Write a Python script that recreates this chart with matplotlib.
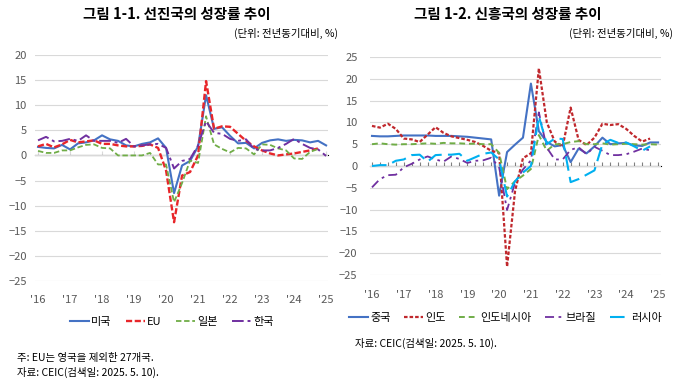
# 선진국 / 신흥국 분기별 성장률 추이 (전년동기대비, %)
import numpy as np
import matplotlib
matplotlib.use('Agg')
import matplotlib.pyplot as plt

plt.rcParams['font.family'] = ['Noto Sans CJK KR', 'DejaVu Sans']

nan = np.nan
# 2016Q1 ~ 2025Q1 (37 quarters)
quarters = 2016 + np.arange(37) / 4
year_ticks = list(range(2016, 2026))
year_labels = ["'16", "'17", "'18", "'19", "'20", "'21", "'22", "'23", "'24", "'25"]

# ---- 그림 1-1 선진국
us = [1.7, 1.5, 1.4, 2.1, 1.2, 2.4, 2.6, 3.0, 4.0, 3.2, 2.9, 2.0,
      1.8, 2.3, 2.6, 3.4, 1.5, -7.5, -2.0, -1.1, 1.8, 12.0, 5.3, 5.6,
      3.9, 2.4, 2.5, 1.4, 2.5, 3.0, 3.2, 2.9, 3.1, 3.0, 2.6, 2.9, 2.0]
eu = [1.8, 2.3, 1.6, 2.2, 3.1, 2.6, 2.8, 3.0, 2.3, 2.3, 2.0, 1.8,
      1.8, 1.9, 2.2, 1.5, -3.0, -13.3, -4.0, -3.3, 0.0, 14.8, 5.3, 5.8,
      5.7, 4.3, 2.9, 1.8, 1.0, 0.4, 0.0, 0.2, 0.4, 0.7, 1.0, 1.4, nan]
japan = [0.9, 0.5, 0.5, 1.0, 1.0, 1.6, 2.1, 2.2, 1.5, 1.4, 0.0, 0.0,
         0.0, 0.0, 0.5, -1.8, -1.8, -9.3, -5.5, -1.0, -1.5, 7.8, 2.2, 1.3,
         0.6, 1.5, 1.4, 0.2, 2.2, 2.1, 1.4, 1.0, -0.6, -0.7, 0.7, 1.3, nan]
korea = [3.0, 3.7, 2.8, 2.9, 3.3, 2.9, 4.0, 2.9, 2.9, 2.9, 2.5, 3.3,
         1.8, 2.0, 2.2, 2.3, 1.5, -2.6, -1.1, -0.7, 2.0, 6.8, 4.5, 4.3,
         3.3, 2.9, 3.2, 1.3, 1.0, 1.0, 1.5, 2.3, 3.3, 2.3, 1.5, 1.2, -0.1]

# ---- 그림 1-2 신흥국
china = [6.9, 6.8, 6.8, 6.9, 7.0, 7.0, 7.0, 7.0, 6.9, 6.9, 6.9, 6.8,
         6.7, 6.5, 6.3, 6.1, -6.8, 3.2, 4.9, 6.5, 18.9, 8.0, 5.5, 4.5,
         4.8, 0.9, 4.0, 2.9, 4.5, 6.5, 5.0, 5.2, 5.3, 4.7, 4.6, 5.4, 5.4]
india = [9.2, 8.8, 9.7, 8.5, 6.3, 6.1, 5.5, 7.2, 8.9, 7.6, 6.8, 6.4,
         6.0, 5.5, 4.6, 3.5, 3.0, -23.1, -5.8, 1.8, 2.9, 22.4, 10.0, 5.6,
         4.5, 13.4, 6.0, 4.8, 6.5, 9.7, 9.4, 9.6, 8.5, 6.9, 5.6, 6.3, nan]
indonesia = [5.0, 5.2, 5.0, 4.9, 5.0, 5.0, 5.1, 5.2, 5.1, 5.3, 5.2, 5.2,
             5.1, 5.1, 5.0, 5.0, 3.0, -5.3, -3.5, -2.2, -0.7, 7.1, 3.5, 5.0,
             5.0, 5.5, 5.7, 5.0, 5.0, 5.2, 4.9, 5.0, 5.1, 5.0, 4.9, 5.0, 4.9]
brazil = [-4.9, -3.0, -2.1, -2.0, -0.3, 0.5, 1.5, 2.2, 1.5, 1.0, 2.2, 1.6,
          0.7, 1.2, 1.3, 1.9, -0.3, -10.1, -3.8, -0.8, 1.3, 12.3, 4.2, 1.5,
          1.5, 3.7, 4.3, 2.7, 4.4, 3.5, 2.5, 2.5, 2.7, 3.3, 4.0, 3.6, nan]
russia = [0.0, 0.2, 0.2, 1.2, 1.5, 2.5, 2.6, 1.0, 2.5, 2.6, 2.6, 2.8,
          1.2, 2.0, 2.8, 3.1, 1.5, -7.0, -3.5, -1.5, 0.0, 11.4, 5.0, 6.3,
          6.2, -3.7, -3.0, -2.0, -1.0, 5.0, 6.0, 5.3, 5.4, 4.5, 3.5, 4.5, nan]

grid_c = '#D9D9D9'
tick_c = '#595959'

fig = plt.figure(figsize=(6.8, 3.79), dpi=100)

# 왼쪽 패널
ax1 = fig.add_axes([0.0515, 0.2586, 0.431, 0.5963])
ax1.plot(quarters, us, color='#4472C4', lw=1.5, label='미국')
ax1.plot(quarters, eu, color='#E8262A', lw=1.7, dashes=(2.6, 1.1), label='EU')
ax1.plot(quarters, japan, color='#70AD47', lw=1.3, dashes=(3, 1.5), label='일본')
ax1.plot(quarters, korea, color='#7030A0', lw=1.4, dashes=(6, 2, 1.5, 2), label='한국')
ax1.set_xlim(2015.906, 2025.0625)
ax1.set_ylim(-25, 20)
ax1.set_yticks(range(-25, 21, 5))
ax1.tick_params(axis='y', length=0, pad=6, labelsize=8, labelcolor=tick_c)
ax1.set_xticks(year_ticks)
ax1.set_xticklabels(year_labels)
ax1.tick_params(axis='x', length=0, pad=10, labelsize=8, labelcolor=tick_c)
ax1.grid(axis='y', color=grid_c, lw=0.8)
for s in ax1.spines.values():
    s.set_visible(False)
ax1.set_axisbelow(True)
# 0 선의 연도 눈금
sec1 = ax1.secondary_xaxis(25 / 45)
sec1.set_xticks(year_ticks, labels=[''] * len(year_ticks))
sec1.tick_params(length=3, color=grid_c)
sec1.spines['bottom'].set_color(grid_c)
sec1.spines['bottom'].set_linewidth(0.8)

# 오른쪽 패널
ax2 = fig.add_axes([0.5441, 0.2744, 0.428, 0.5752])
ax2.plot(quarters, china, color='#4472C4', lw=1.5, label='중국')
ax2.plot(quarters, india, color='#C0282D', lw=1.6, dashes=(1.6, 0.9), label='인도')
ax2.plot(quarters, indonesia, color='#70AD47', lw=1.4, dashes=(3, 2), label='인도네시아')
ax2.plot(quarters, brazil, color='#7030A0', lw=1.3, dashes=(5, 2.5, 1.5, 2.5), label='브라질')
ax2.plot(quarters, russia, color='#00B0F0', lw=1.5, dashes=(7, 3), label='러시아')
ax2.set_xlim(2015.937, 2025.094)
ax2.set_ylim(-25, 25)
ax2.set_yticks(range(-25, 26, 5))
ax2.tick_params(axis='y', length=0, pad=9, labelsize=8, labelcolor=tick_c)
ax2.set_xticks(year_ticks)
ax2.set_xticklabels(year_labels)
ax2.tick_params(axis='x', length=0, pad=11, labelsize=8, labelcolor=tick_c)
ax2.grid(axis='y', color=grid_c, lw=0.8)
for s in ax2.spines.values():
    s.set_visible(False)
ax2.set_axisbelow(True)
# 0 선의 분기 눈금
sec2 = ax2.secondary_xaxis(0.5)
sec2.set_xticks(quarters, labels=[''] * len(quarters))
sec2.tick_params(length=3, color='#808080', width=0.8)
sec2.spines['bottom'].set_color('#808080')
sec2.spines['bottom'].set_linewidth(0.9)

# 제목, 단위
fig.text(0.260, 0.963, '그림 1-1. 선진국의 성장률 추이', ha='center', va='center',
         fontsize=10.5, fontweight='bold')
fig.text(0.747, 0.963, '그림 1-2. 신흥국의 성장률 추이', ha='center', va='center',
         fontsize=10.5, fontweight='bold')
fig.text(0.497, 0.913, '(단위: 전년동기대비, %)', ha='right', va='center', fontsize=7.5)
fig.text(0.990, 0.913, '(단위: 전년동기대비, %)', ha='right', va='center', fontsize=7.5)

# 범례
fig.legend(*ax1.get_legend_handles_labels(), loc='center', bbox_to_anchor=(0.253, 0.150),
           ncol=4, frameon=False, fontsize=8, handlelength=1.7, handletextpad=0.2,
           columnspacing=1.3)
fig.legend(*ax2.get_legend_handles_labels(), loc='center', bbox_to_anchor=(0.743, 0.161),
           ncol=5, frameon=False, fontsize=8, handlelength=1.7, handletextpad=0.2,
           columnspacing=1.2)

# 주석
fig.text(0.025, 0.055, '주: EU는 영국을 제외한 27개국.', ha='left', va='center', fontsize=7.5)
fig.text(0.025, 0.018, '자료: CEIC(검색일: 2025. 5. 10).', ha='left', va='center', fontsize=7.5)
fig.text(0.522, 0.095, '자료: CEIC(검색일: 2025. 5. 10).', ha='left', va='center', fontsize=7.5)

fig.savefig('out.png', dpi=100)
